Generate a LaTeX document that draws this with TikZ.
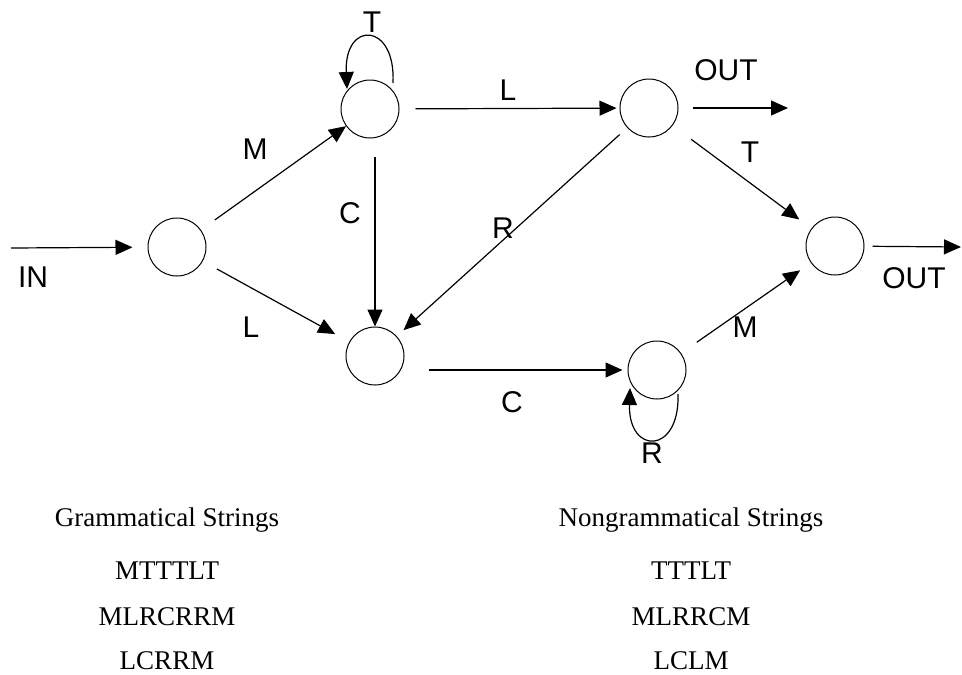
\documentclass[tikz,border=0pt]{standalone}
\usepackage{fontspec}
\setmainfont{Liberation Serif}
\newfontfamily\labelfont{Liberation Sans}
\usetikzlibrary{arrows.meta}
\begin{document}
\begin{tikzpicture}[x=1pt,y=-1pt,
  state/.style={draw, circle, minimum size=58pt, inner sep=0pt, line width=1pt},
  edge/.style={line width=1.2pt, -{Triangle[length=17pt,width=15pt]}},
  lbl/.style={font=\labelfont\fontsize{30}{30}\selectfont, anchor=base, inner sep=0pt},
  str/.style={font=\fontsize{27}{27}\selectfont, anchor=base, inner sep=0pt}]
\useasboundingbox (0,0) rectangle (962,675);

% states
\node[state] (n1) at (177,247) {};
\node[state] (n2) at (370,109) {};
\node[state] (n3) at (375,356) {};
\node[state] (n4) at (649,108) {};
\node[state] (n5) at (657,370) {};
\node[state] (n6) at (835,246) {};

\coordinate (inS) at (11,248);
\coordinate (out1) at (788,108);
\coordinate (out2) at (961,247);

% connectors
\draw[edge, shorten >=15pt] (inS) -- (n1);
\draw[edge, shorten <=17pt] (n1) -- (n2);
\draw[edge, shorten <=16pt, shorten >=16pt] (n1) -- (n3);
\draw[edge, shorten <=18pt] (n3.north |- n2.south) -- (n3.north);
\draw[edge] ([shift={(23,-26)}]n2.center) .. controls (396,22) and (344,20) .. ([shift={(-23,-20)}]n2.center);
\draw[edge, shorten <=16pt, shorten >=3pt] (n2) -- (n4);
\draw[edge, shorten <=14pt] (n4) -- (out1);
\draw[edge, shorten <=23pt, shorten >=15pt] (n4) -- (n6);
\draw[edge, shorten <=10pt, shorten >=9pt] (n4) -- (n3);
\draw[edge, shorten <=24pt, shorten >=5pt] (n3.east |- n5.west) -- (n5.west);
\draw[edge] ([shift={(21,24)}]n5.center) .. controls (680,455) and (628,455) .. ([shift={(-27,18)}]n5.center);
\draw[edge, shorten <=19pt, shorten >=13pt] (n5) -- (n6);
\draw[edge, shorten <=8pt] (n6) -- (out2);

% labels
\node[lbl] (lIN) at (33,287) {IN};
\node[lbl] (lM1) at (255,159) {M};
\node[lbl] (lL1) at (251,337) {L};
\node[lbl] (lC1) at (350,223) {C};
\node[lbl] (lT1) at (372,32) {T};
\node[lbl] (lL2) at (508,100) {L};
\node[lbl] (lOUT1) at (726,80) {OUT};
\node[lbl] (lT2) at (750,162) {T};
\node[lbl] (lR1) at (503,238) {R};
\node[lbl] (lC2) at (512,412) {C};
\node[lbl] (lM2) at (745,337) {M};
\node[lbl] (lOUT2) at (914,288) {OUT};
\node[lbl] (lR2) at (652,463) {R};

% string lists
\node[str] (g0) at (167,526) {Grammatical Strings};
\node[str] (g1) at (167,579) {MTTTLT};
\node[str] (g2) at (167,625) {MLRCRRM};
\node[str] (g3) at (167,669) {LCRRM};
\node[str] (ng0) at (691,526) {Nongrammatical Strings};
\node[str] (ng1) at (691,579) {TTTLT};
\node[str] (ng2) at (691,625) {MLRRCM};
\node[str] (ng3) at (691,669) {LCLM};
\end{tikzpicture}
\end{document}
